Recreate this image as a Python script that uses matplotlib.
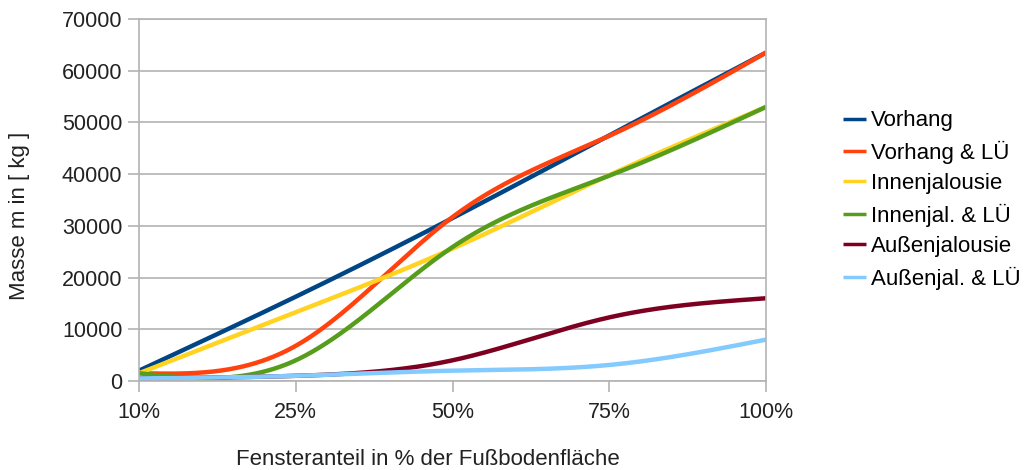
import matplotlib
matplotlib.use("Agg")
import matplotlib.pyplot as plt
import numpy as np

plt.rcParams["font.family"] = ["Liberation Sans", "DejaVu Sans"]

categories = ["10%", "25%", "50%", "75%", "100%"]

vorhang = [2000, 16300, 31500, 47500, 63500]
vorhang_lue = [1500, 6800, 31700, 47400, 63500]
innenjalousie = [1500, 13300, 25600, 39800, 53000]
innenjal_lue = [1500, 4000, 25900, 39700, 53000]
aussenjalousie = [500, 1000, 4000, 12300, 16000]
aussenjal_lue = [500, 1000, 2000, 3100, 8000]

series = [
    ("Vorhang", vorhang, "#004586"),
    ("Vorhang & LÜ", vorhang_lue, "#ff420e"),
    ("Innenjalousie", innenjalousie, "#ffd320"),
    ("Innenjal. & LÜ", innenjal_lue, "#579d1c"),
    ("Außenjalousie", aussenjalousie, "#7e0021"),
    ("Außenjal. & LÜ", aussenjal_lue, "#83caff"),
]


def natural_spline(x, y, xs):
    # natural cubic spline, like the "smooth line" option of office charts
    x = np.asarray(x, float)
    y = np.asarray(y, float)
    n = len(x)
    h = np.diff(x)
    A = np.zeros((n, n))
    b = np.zeros(n)
    A[0, 0] = A[-1, -1] = 1
    for i in range(1, n - 1):
        A[i, i - 1] = h[i - 1]
        A[i, i] = 2 * (h[i - 1] + h[i])
        A[i, i + 1] = h[i]
        b[i] = 3 * ((y[i + 1] - y[i]) / h[i] - (y[i] - y[i - 1]) / h[i - 1])
    c = np.linalg.solve(A, b)
    out = np.empty_like(xs)
    for k, xv in enumerate(xs):
        i = min(np.searchsorted(x, xv, side="right") - 1, n - 2)
        dx = xv - x[i]
        bi = (y[i + 1] - y[i]) / h[i] - h[i] * (2 * c[i] + c[i + 1]) / 3
        di = (c[i + 1] - c[i]) / (3 * h[i])
        out[k] = y[i] + bi * dx + c[i] * dx ** 2 + di * dx ** 3
    return out


fig = plt.figure(figsize=(10.31, 4.70), dpi=100)
ax = fig.add_axes([139 / 1031, 1 - 381 / 470, (766 - 139) / 1031, (381 - 19) / 470])

xpos = np.arange(len(categories))
xs = np.linspace(0, len(categories) - 1, 400)
for label, vals, color in series:
    ax.plot(xs, natural_spline(xpos, vals, xs), color=color, lw=3.2,
            label=label, solid_capstyle="butt")

ax.set_xlim(0, len(categories) - 1)
ax.set_ylim(0, 70000)
ax.set_yticks(range(0, 70001, 10000))
ax.set_xticks(xpos)
ax.set_xticklabels(categories)
ax.tick_params(labelsize=15.5, labelcolor="#222222", color="#b3b3b3",
               length=8, width=1.2)
ax.tick_params(axis="x", pad=7)
ax.tick_params(axis="y", pad=4)
ax.grid(axis="y", color="#b3b3b3", lw=1.2)
ax.set_axisbelow(True)
for s in ax.spines.values():
    s.set_color("#b3b3b3")
    s.set_linewidth(1.2)

ax.set_xlabel("Fensteranteil in % der Fußbodenfläche", fontsize=16, color="#222222")
ax.set_ylabel("Masse m in [ kg ]", fontsize=16, color="#222222")
ax.xaxis.set_label_coords(0.461, -0.218)
ax.yaxis.set_label_coords(-0.191, 0.456)
ax.xaxis.label.set_va("center")
ax.yaxis.label.set_va("center")

leg = fig.legend(loc="center left", bbox_to_anchor=(843 / 1031, 1 - 200 / 470),
                 frameon=False, fontsize=16, handlelength=1.05, handletextpad=0.2,
                 labelspacing=0.42, borderpad=0, borderaxespad=0)
for line in leg.get_lines():
    line.set_linewidth(2.5)

fig.savefig("out.png", dpi=100)
